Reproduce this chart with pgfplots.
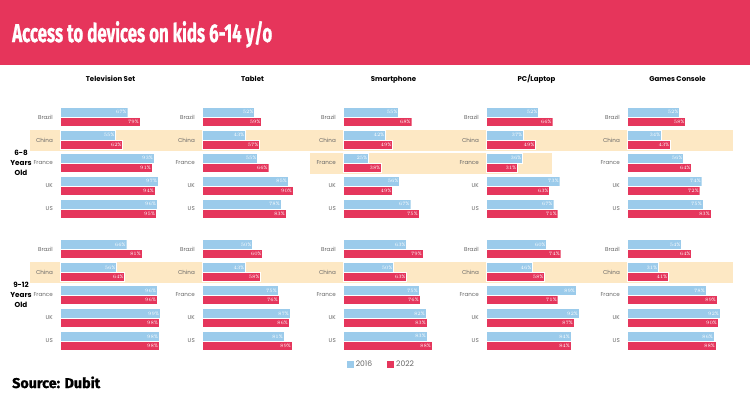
\documentclass[border=0pt]{standalone}
\usepackage{pgfplots}
\pgfplotsset{compat=1.18}
\usepackage{pgfplotstable}
\usepackage{graphicx}
\usepackage{fontspec}
\setmainfont{Poppins}
\newfontfamily\titlefont{Fira Sans}[BoldFeatures={FakeBold=1.2}]
\definecolor{barblue}{HTML}{9BCBEB}
\definecolor{barred}{HTML}{E5365C}
\definecolor{banner}{HTML}{E6355B}
\definecolor{band}{HTML}{FDE8C4}
\definecolor{labelgray}{HTML}{666666}

% rows: 4=Brazil,3=China,2=France,1=UK,0=US ; a=2016, b=2022
\pgfplotstableread{
y a b
4 67 79
3 55 62
2 93 91
1 97 94
0 96 95
}\tvA
\pgfplotstableread{
y a b
4 52 59
3 43 57
2 55 66
1 85 90
0 78 83
}\tabA
\pgfplotstableread{
y a b
4 55 68
3 42 49
2 25 38
1 56 49
0 67 75
}\smA
\pgfplotstableread{
y a b
4 52 66
3 37 49
2 36 31
1 73 63
0 67 71
}\pcA
\pgfplotstableread{
y a b
4 52 58
3 34 43
2 56 64
1 74 72
0 75 83
}\gcA
\pgfplotstableread{
y a b
4 66 81
3 56 64
2 96 96
1 99 98
0 98 98
}\tvB
\pgfplotstableread{
y a b
4 50 60
3 43 58
2 75 76
1 87 86
0 81 89
}\tabB
\pgfplotstableread{
y a b
4 63 79
3 50 63
2 75 76
1 82 83
0 83 88
}\smB
\pgfplotstableread{
y a b
4 60 74
3 46 58
2 89 71
1 92 87
0 84 84
}\pcB
\pgfplotstableread{
y a b
4 54 64
3 31 41
2 78 89
1 92 90
0 86 88
}\gcB

\pgfplotsset{
  panel/.style={
    xbar, scale only axis, width=101pt, height=115pt, anchor=south west,
    xmin=0, xmax=100, ymin=-0.5, ymax=4.5,
    axis line style={draw=none}, tick style={draw=none}, major tick length=0pt,
    xtick=\empty, ytick={0,1,2,3,4}, yticklabels={US,UK,France,China,Brazil},
    yticklabel style={font=\fontsize{5.6}{7}\selectfont, text=labelgray, inner sep=0pt, xshift=-7pt},
    bar width=9.5pt, clip=false, point meta=x,
    nodes near coords={\pgfmathprintnumber{\pgfplotspointmeta}\%},
    every node near coord/.append style={anchor=east, text=white, font=\fontsize{5}{6}\selectfont, inner sep=1pt},
    title style={font=\bfseries\fontsize{7}{8}\selectfont, anchor=base, at={(0.5,1)}, yshift=18.5pt},
    every axis plot/.append style={draw=white, line width=0.3pt},
  },
  sqlegend/.style={legend image code/.code={\fill[##1] (0pt,-3.8pt) rectangle (7.6pt,3.8pt);}},
}

\newcommand{\panel}[5]{%
\begin{axis}[panel, at={(#1pt,-#2pt)}, title={#3}, #5]
\addplot[fill=barblue, bar shift=4.75pt] table[x=a,y=y]{#4};
\addplot[fill=barred, bar shift=-4.75pt] table[x=b,y=y]{#4};
\end{axis}}

\begin{document}
\begin{tikzpicture}[x=1pt,y=1pt]
\useasboundingbox (0,0) rectangle (750,-400);
\fill[white] (0,0) rectangle (750,-400);
\fill[banner] (0,0) rectangle (750,-65);
\node[anchor=base west, inner sep=0pt, text=white] at (12,-42)
  {\resizebox{260pt}{21pt}{\titlefont\bfseries Access to devices on kids 6-14 y/o}};
% highlight bands
\fill[band] (30,-129.5) rectangle (733,-150.5);
\fill[band] (310,-152.5) rectangle (552,-173.5);
\fill[band] (30,-261.5) rectangle (733,-282.5);
% group labels
\node[align=center, font=\bfseries\fontsize{7.2}{10}\selectfont] at (21,-163) {6-8\\Years\\Old};
\node[align=center, font=\bfseries\fontsize{7.2}{10}\selectfont] at (21,-295) {9-12\\Years\\Old};
% panels
\panel{60}{220.5}{Television Set}{\tvA}{}
\panel{202}{220.5}{Tablet}{\tabA}{}
\panel{343}{220.5}{Smartphone}{\smA}{}
\panel{486}{220.5}{PC/Laptop}{\pcA}{}
\panel{627}{220.5}{Games Console}{\gcA}{}
\panel{60}{352.5}{}{\tvB}{}
\panel{202}{352.5}{}{\tabB}{}
\panel{343}{352.5}{}{\smB}{sqlegend, legend entries={2016,2022}, legend style={at={(0.376,-0.1)}, anchor=center, draw=none, fill=none, legend columns=2, font=\fontsize{7.6}{9}\selectfont, text=labelgray, /tikz/every even column/.append style={column sep=12pt}}}
\panel{486}{352.5}{}{\pcB}{}
\panel{627}{352.5}{}{\gcB}{}
\node[anchor=base west, inner sep=0pt] at (12,-388)
  {\resizebox{88pt}{11.5pt}{\titlefont\bfseries Source: Dubit}};
\end{tikzpicture}
\end{document}
